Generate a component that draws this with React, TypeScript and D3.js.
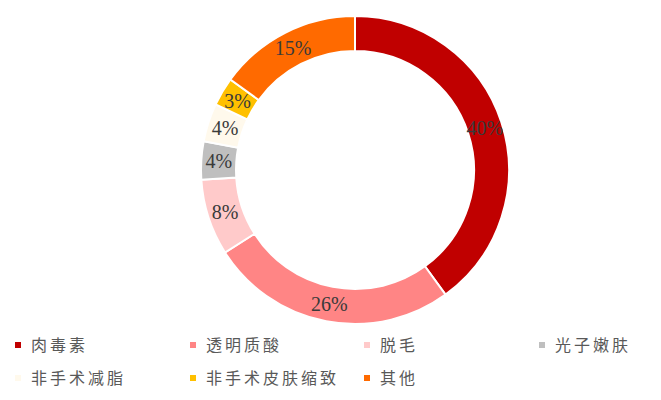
import React, { useEffect, useRef } from 'react';
import * as d3 from 'd3';

const categories = ['肉毒素', '透明质酸', '脱毛', '光子嫩肤', '非手术减脂', '非手术皮肤缩致', '其他'];
const shares = [40, 26, 8, 4, 4, 3, 15];
const colors = ['#C00000', '#FF8585', '#FFCACA', '#BFBFBF', '#FFF9EC', '#FFC000', '#FF6A00'];

const App: React.FC = () => {
  const svgRef = useRef<SVGSVGElement>(null);

  useEffect(() => {
    if (!svgRef.current) return;
    const svg = d3.select(svgRef.current);
    svg.selectAll('*').remove();

    const cx = 355;
    const cy = 170;
    const outerR = 154;
    const innerR = 119;

    const pie = d3.pie<number>().sort(null).value(d => d);
    const arcs = pie(shares);
    const arc = d3.arc<d3.PieArcDatum<number>>().innerRadius(innerR).outerRadius(outerR);

    const g = svg.append('g').attr('transform', `translate(${cx},${cy})`);

    g.selectAll('path')
      .data(arcs)
      .join('path')
        .attr('d', arc)
        .attr('fill', (d, i) => colors[i])
        .attr('stroke', '#fff')
        .attr('stroke-width', 2);

    // Percent labels at the middle of the ring
    g.selectAll('text')
      .data(arcs)
      .join('text')
        .attr('transform', d => `translate(${arc.centroid(d)})`)
        .attr('text-anchor', 'middle')
        .attr('dy', '0.35em')
        .attr('font-family', '"Liberation Serif", "Times New Roman", serif')
        .attr('font-size', 20)
        .attr('fill', '#3a3a3a')
        .text(d => `${d.data}%`);

    // Legend, 4 items per row
    const colX = [18, 193, 367, 542];
    const rowY = [345, 378];
    const legend = svg.append('g')
      .selectAll('g')
      .data(categories)
      .join('g')
        .attr('transform', (d, i) => `translate(${colX[i % 4]},${rowY[Math.floor(i / 4)]})`);

    legend.append('rect')
      .attr('x', -3)
      .attr('y', -3)
      .attr('width', 6)
      .attr('height', 6)
      .attr('fill', (d, i) => colors[i]);

    legend.append('text')
      .attr('x', 13)
      .attr('dy', '0.35em')
      .attr('font-family', '"Noto Sans CJK SC", sans-serif')
      .attr('font-size', 16)
      .attr('letter-spacing', 3)
      .attr('fill', '#595959')
      .text(d => d);
  }, []);

  return (
    <svg
      ref={svgRef}
      width={661}
      height={400}
      style={{ position: 'absolute', left: 0, top: 0, background: '#fff' }}
    />
  );
};

export default App;
